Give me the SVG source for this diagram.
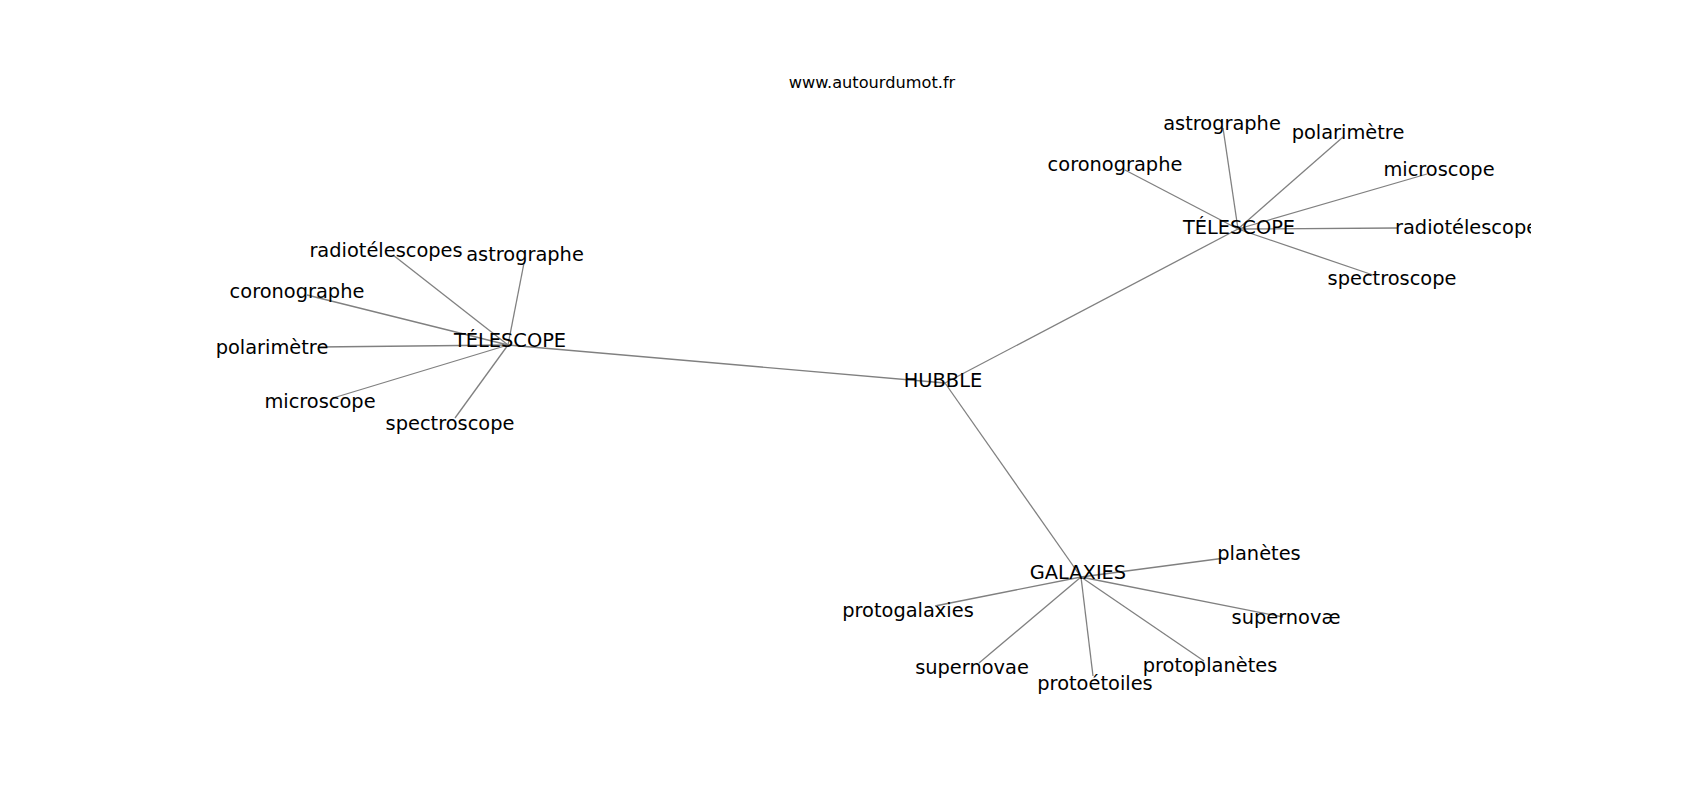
<svg xmlns="http://www.w3.org/2000/svg" width="1700" height="800" viewBox="0 0 1700 800">
<style>
.e{stroke:#808080;stroke-width:1.3;fill:none}
.t{font-family:"DejaVu Sans",sans-serif;font-size:19.4px;fill:#000;text-anchor:middle}
.title{font-family:"DejaVu Sans",sans-serif;font-size:16.2px;fill:#000;text-anchor:middle}
</style>
<defs>
<clipPath id="ax"><rect x="0" y="0" width="1531" height="800"/></clipPath>
</defs>
<rect width="1700" height="800" fill="#fff"/>
<text class="title" x="872" y="88">www.autourdumot.fr</text>
<g id="connectors">
<line class="e" x1="508" y1="345" x2="945" y2="383"/>
<line class="e" x1="945" y1="383" x2="1238" y2="229"/>
<line class="e" x1="945" y1="383" x2="1081" y2="577"/>
<line class="e" x1="508" y1="345" x2="393" y2="255"/>
<line class="e" x1="508" y1="345" x2="524" y2="263"/>
<line class="e" x1="508" y1="345" x2="307" y2="295"/>
<line class="e" x1="508" y1="345" x2="318" y2="347"/>
<line class="e" x1="508" y1="345" x2="333" y2="398"/>
<line class="e" x1="508" y1="345" x2="455" y2="418"/>
<line class="e" x1="1238" y1="229" x2="1223" y2="128"/>
<line class="e" x1="1238" y1="229" x2="1343" y2="137"/>
<line class="e" x1="1238" y1="229" x2="1125" y2="170"/>
<line class="e" x1="1238" y1="229" x2="1427" y2="174"/>
<line class="e" x1="1238" y1="229" x2="1397" y2="228"/>
<line class="e" x1="1238" y1="229" x2="1373" y2="275"/>
<line class="e" x1="1081" y1="577" x2="1225" y2="558"/>
<line class="e" x1="1081" y1="577" x2="935" y2="606"/>
<line class="e" x1="1081" y1="577" x2="1283" y2="617"/>
<line class="e" x1="1081" y1="577" x2="979" y2="663"/>
<line class="e" x1="1081" y1="577" x2="1093" y2="676"/>
<line class="e" x1="1081" y1="577" x2="1204" y2="661"/>
</g>
<g id="n-hubble"><text class="t" x="943" y="387">HUBBLE</text></g>
<g id="n-telescope-left"><text class="t" x="510" y="347">TÉLESCOPE</text></g>
<g id="n-telescope-right"><text class="t" x="1239" y="234">TÉLESCOPE</text></g>
<g id="n-galaxies"><text class="t" x="1078" y="579">GALAXIES</text></g>
<g id="n-l-radiotelescopes"><text class="t" x="386" y="257">radiotélescopes</text></g>
<g id="n-l-astrographe"><text class="t" x="525" y="261">astrographe</text></g>
<g id="n-l-coronographe"><text class="t" x="297" y="298">coronographe</text></g>
<g id="n-l-polarimetre"><text class="t" x="272" y="354">polarimètre</text></g>
<g id="n-l-microscope"><text class="t" x="320" y="408">microscope</text></g>
<g id="n-l-spectroscope"><text class="t" x="450" y="430">spectroscope</text></g>
<g id="n-r-astrographe"><text class="t" x="1222" y="130">astrographe</text></g>
<g id="n-r-polarimetre"><text class="t" x="1348" y="139">polarimètre</text></g>
<g id="n-r-coronographe"><text class="t" x="1115" y="171">coronographe</text></g>
<g id="n-r-microscope"><text class="t" x="1439" y="176">microscope</text></g>
<g id="n-r-radiotelescope" clip-path="url(#ax)"><text class="t" x="1395" y="234" style="text-anchor:start">radiotélescope</text></g>
<g id="n-r-spectroscope"><text class="t" x="1392" y="285">spectroscope</text></g>
<g id="n-g-planetes"><text class="t" x="1259" y="560">planètes</text></g>
<g id="n-g-protogalaxies"><text class="t" x="908" y="617">protogalaxies</text></g>
<g id="n-g-supernovae2"><text class="t" x="1286" y="624">supernovæ</text></g>
<g id="n-g-supernovae"><text class="t" x="972" y="674">supernovae</text></g>
<g id="n-g-protoetoiles"><text class="t" x="1095" y="690">protoétoiles</text></g>
<g id="n-g-protoplanetes"><text class="t" x="1210" y="672">protoplanètes</text></g>
</svg>
